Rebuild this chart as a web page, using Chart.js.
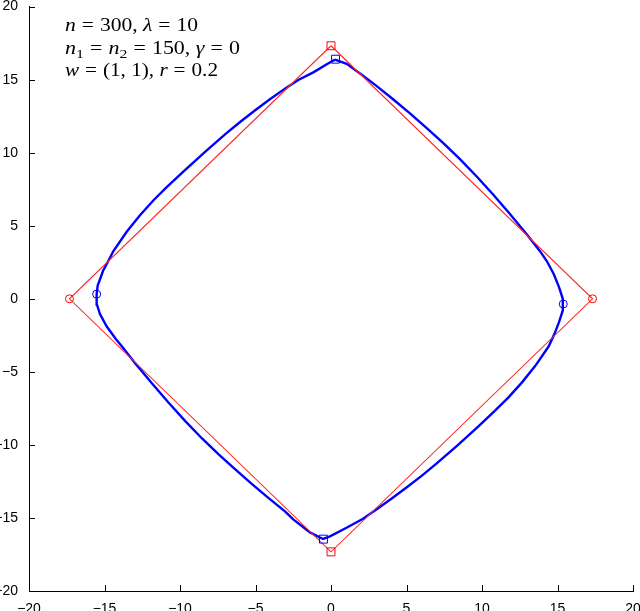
<!DOCTYPE html>
<html>
<head>
<meta charset="utf-8">
<script src="https://cdn.jsdelivr.net/npm/chart.js@4"></script>
<style>
  html, body { margin: 0; padding: 0; background: #fff; }
  #wrap { width: 640px; height: 611px; }
</style>
</head>
<body>
<div id="wrap"><canvas id="c" width="640" height="611"></canvas></div>
<script>
// axis ticks
const tickValues = [-20, -15, -10, -5, 0, 5, 10, 15, 20];

// red reference diamond (closed)
const diamondX = [0, 17.32, 0, -17.32, 0];
const diamondY = [17.32, 0, -17.32, 0, 17.32];

// blue boundary, clockwise from the top corner
const curveX = [0.26, 1.04, 1.81, 2.47, 3.03, 4.13, 5.23, 6.34, 7.44, 8.54, 9.65, 10.75, 11.85, 12.96, 13.84,
  14.3, 14.75, 15.1, 15.35, 15.35, 15.1, 14.8, 14.42,
  13.53, 12.65, 11.77, 10.88, 9.78, 8.34, 7.0, 6.0, 5.0, 4.0, 3.0, 2.12, 1.06, -0.07, -0.53,
  -1.39, -2.5, -3.03, -4.13, -5.23, -6.34, -7.44, -8.54, -9.65, -10.75, -11.85, -12.96, -13.84,
  -14.25, -14.85, -15.3, -15.5, -15.52, -15.45, -15.1, -14.75, -14.42,
  -13.53, -12.65, -11.77, -10.88, -9.78, -8.34, -7.0, -6.0, -5.0, -4.0, -3.0, -2.17, -1.17, -0.28, 0.26];
const curveY = [16.37, 16.08, 15.51, 15.0, 14.56, 13.64, 12.69, 11.68, 10.65, 9.56, 8.37, 7.12, 5.80, 4.42, 3.26,
  2.57, 1.7, 0.8, 0.0, -0.8, -1.6, -2.4, -3.25,
  -4.59, -5.72, -6.73, -7.64, -8.71, -10.06, -11.27, -12.12, -12.92, -13.69, -14.42, -15.05, -15.65, -16.26, -16.44,
  -15.99, -15.10, -14.56, -13.64, -12.69, -11.68, -10.65, -9.56, -8.37, -7.12, -5.80, -4.42, -3.26,
  -2.75, -1.9, -1.04, -0.4, 0.32, 0.9, 1.9, 2.59, 3.25,
  4.59, 5.72, 6.73, 7.64, 8.71, 10.06, 11.27, 12.12, 12.92, 13.69, 14.42, 14.98, 15.5, 16.06, 16.37];

// corner markers
const redSqX = [0, 0], redSqY = [17.32, -17.32];
const redCircX = [-17.32, 17.32], redCircY = [0, 0];
const blueSqX = [0.3, -0.5], blueSqY = [16.4, -16.45];
const blueCircX = [-15.52, 15.38], blueCircY = [0.32, -0.36];

// annotation lines: [text, style] with i = italic, r = roman, s = subscript, e = "=" sign
const noteLines = [
  [['n', 'i'], ['=', 'e'], ['300, ', 'r'], ['λ', 'i'], ['=', 'e'], ['10', 'r']],
  [['n', 'i'], ['1', 's'], ['=', 'e'], ['n', 'i'], ['2', 's'], ['=', 'e'], ['150, ', 'r'], ['γ', 'i'], ['=', 'e'], ['0', 'r']],
  [['w', 'i'], ['=', 'e'], ['(1, 1), ', 'r'], ['r', 'i'], ['=', 'e'], ['0.2', 'r']]
];
const noteWidths = [133, 175, 153];

const pts = (xs, ys) => xs.map((x, i) => ({ x: x, y: ys[i] }));

const innerTicks = {
  id: 'innerTicks',
  afterDraw(chart) {
    const ctx = chart.ctx, a = chart.chartArea;
    const xs = chart.scales.x, ys = chart.scales.y;
    ctx.save();
    ctx.strokeStyle = '#000';
    ctx.lineWidth = 1;
    ctx.beginPath();
    for (const v of tickValues) {
      const px = Math.round(xs.getPixelForValue(v)) + 0.5;
      ctx.moveTo(px, a.bottom);
      ctx.lineTo(px, a.bottom - 6);
      const py = Math.round(ys.getPixelForValue(v)) + 0.5;
      ctx.moveTo(a.left, py);
      ctx.lineTo(a.left + 6, py);
    }
    ctx.stroke();
    ctx.restore();
  }
};

function setRunFont(ctx, s) {
  if (s === 'i') ctx.font = 'italic 18px "Liberation Serif"';
  else if (s === 's') ctx.font = '13px "Liberation Serif"';
  else ctx.font = '18px "Liberation Serif"';
}

const note = {
  id: 'note',
  afterDraw(chart) {
    const ctx = chart.ctx;
    const baselines = [31, 54, 76];
    const gap = 5;
    ctx.save();
    ctx.fillStyle = '#000';
    ctx.textBaseline = 'alphabetic';
    noteLines.forEach((runs, li) => {
      // natural width, then stretch the line to the width seen in the picture
      let w = 0;
      for (const [t, s] of runs) {
        setRunFont(ctx, s);
        w += ctx.measureText(t).width + (s === 'e' ? 2 * gap : 0);
      }
      const k = noteWidths[li] / w;
      ctx.save();
      ctx.translate(65, baselines[li]);
      ctx.scale(k, 1);
      let x = 0;
      for (const [t, s] of runs) {
        setRunFont(ctx, s);
        if (s === 'e') x += gap;
        ctx.fillText(t, x, s === 's' ? 4 : 0);
        x += ctx.measureText(t).width + (s === 'e' ? gap : 0);
      }
      ctx.restore();
    });
    ctx.restore();
  }
};

const axisCommon = {
  type: 'linear',
  min: -20,
  max: 20,
  grid: { display: false },
  border: { display: true, color: '#000', width: 1 },
  ticks: {
    stepSize: 5,
    color: '#000',
    font: { family: '"Liberation Sans", Arial, sans-serif', size: 14 },
    callback: v => String(v).replace('-', '\u2212')
  }
};

new Chart(document.getElementById('c'), {
  type: 'scatter',
  data: {
    datasets: [
      { data: pts(diamondX, diamondY), showLine: true, borderColor: 'rgb(255,40,40)', borderWidth: 1.1, pointRadius: 0, order: 1 },
      { data: pts(curveX, curveY), showLine: true, borderColor: '#0000ff', borderWidth: 2.4, pointRadius: 0, order: 2 },
      { data: pts(redSqX, redSqY), pointStyle: 'rect', pointRadius: 5.6, borderColor: '#ff0000', backgroundColor: 'rgba(0,0,0,0)', borderWidth: 1, order: 0 },
      { data: pts(redCircX, redCircY), pointStyle: 'circle', pointRadius: 4, borderColor: '#ff0000', backgroundColor: 'rgba(0,0,0,0)', borderWidth: 1, order: 0 },
      { data: pts(blueSqX, blueSqY), pointStyle: 'rect', pointRadius: 5.6, borderColor: '#0000ff', backgroundColor: 'rgba(0,0,0,0)', borderWidth: 1, order: 0 },
      { data: pts(blueCircX, blueCircY), pointStyle: 'circle', pointRadius: 4, borderColor: '#0000ff', backgroundColor: 'rgba(0,0,0,0)', borderWidth: 1, order: 0 }
    ]
  },
  options: {
    responsive: false,
    animation: false,
    layout: { padding: { top: 4, right: 7, left: 0, bottom: 0 } },
    plugins: { legend: { display: false }, tooltip: { enabled: false } },
    elements: { line: { tension: 0 } },
    scales: {
      x: Object.assign({}, axisCommon, {
        ticks: Object.assign({}, axisCommon.ticks, { padding: 2, maxRotation: 0 }),
        afterFit(s) { s.height = 20; s.paddingLeft = 0; s.paddingRight = 0; }
      }),
      y: Object.assign({}, axisCommon, {
        ticks: Object.assign({}, axisCommon.ticks, { padding: 3 }),
        afterFit(s) { s.width = 29; s.paddingTop = 0; s.paddingBottom = 0; }
      })
    }
  },
  plugins: [innerTicks, note]
});
</script>
</body>
</html>
